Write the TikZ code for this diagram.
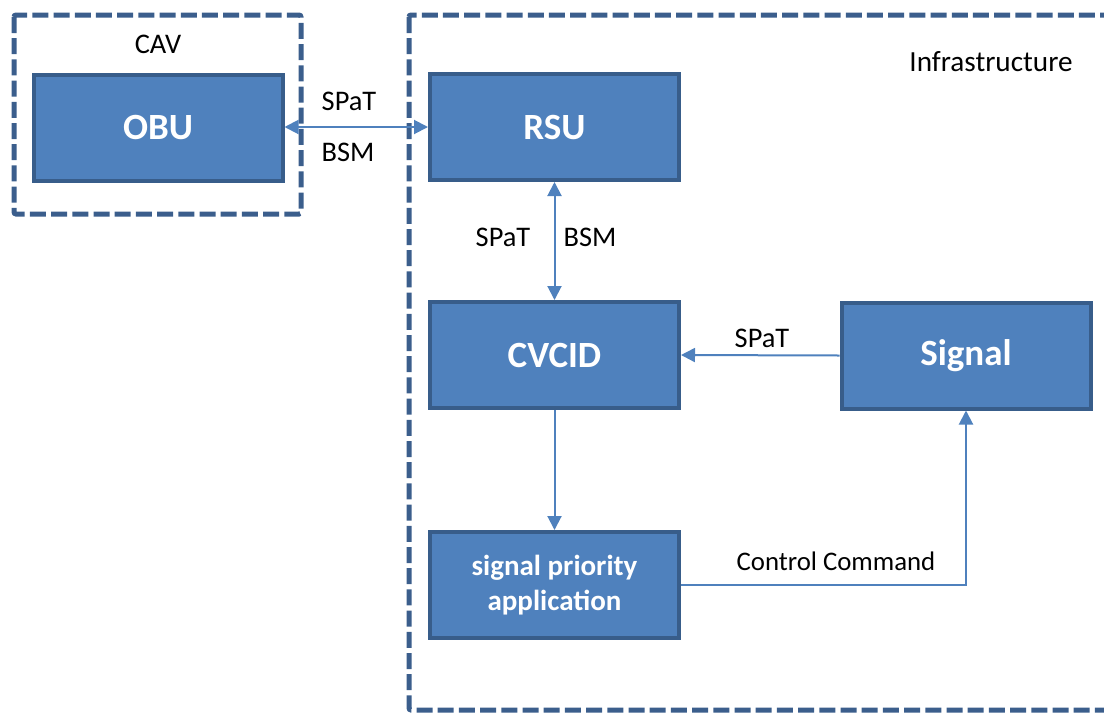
\documentclass[tikz,border=0pt]{standalone}
\usepackage{fontspec}
\setmainfont{Carlito}
\usetikzlibrary{arrows.meta}
\definecolor{boxfill}{RGB}{79,129,189}
\definecolor{boxline}{RGB}{56,93,138}
\definecolor{dashline}{RGB}{59,94,140}
\tikzset{
  blockbox/.style={draw=boxline, fill=boxfill, line width=2pt, minimum width=124.5pt, minimum height=53pt, inner sep=0pt, text=white, font=\bfseries\fontsize{18.5}{22}\selectfont, align=center},
  smallblock/.style={blockbox, font=\bfseries\fontsize{14.5}{17.8}\selectfont},
  groupbox/.style={draw=dashline, line width=2.5pt, dash pattern=on 8pt off 2.6pt, rounded corners=1pt},
  conn/.style={draw=boxfill, line width=1pt},
  tip/.style={-{Triangle[length=7pt,width=7pt]}},
  lbl/.style={font=\fontsize{14.2}{16}\selectfont, text=black, inner sep=0pt}
}
\begin{document}
\begin{tikzpicture}[x=0.5pt,y=-0.5pt]
\useasboundingbox (0,0) rectangle (1104,713);
\begin{scope}
\clip (0,0) rectangle (1104,713);
% group boxes
\draw[groupbox] (14,15) rectangle (301,214);
\draw[groupbox] (409,15) rectangle (1130,710);
\end{scope}
\node[lbl] (cav) at (158,44) {CAV};
\node[lbl, font=\fontsize{14.6}{16}\selectfont] (infra) at (991,62) {Infrastructure};
% blocks
\node[blockbox] (obu) at (158,127.5) {OBU};
\node[blockbox] (rsu) at (554.5,127) {RSU};
\node[blockbox] (cvcid) at (554.5,355) {CVCID};
\node[blockbox] (signal) at (966,355.5) {Signal};
\node[smallblock] (spa) at (554.5,585) {signal priority\\application};
% connectors
\draw[conn, {Triangle[length=7pt,width=7pt]}-{Triangle[length=7pt,width=7pt]}] (obu.east |- 0,127) -- (rsu.west |- 0,127);
\draw[conn, {Triangle[length=7pt,width=7pt]}-{Triangle[length=7pt,width=7pt]}] (rsu.south) -- (cvcid.north);
\draw[conn, tip] (signal.west) -- (cvcid.east);
\draw[conn, tip] (cvcid.south) -- (spa.north);
\draw[conn, tip] (spa.east) -| (signal.south);
% labels
\node[lbl] (l1) at (349,101) {SPaT};
\node[lbl] (l2) at (348,152) {BSM};
\node[lbl] (l3) at (503,237) {SPaT};
\node[lbl] (l4) at (590,237) {BSM};
\node[lbl] (l5) at (762,338) {SPaT};
\node[lbl, font=\fontsize{13.4}{16}\selectfont] (l6) at (836,561) {Control Command};
\end{tikzpicture}
\end{document}
